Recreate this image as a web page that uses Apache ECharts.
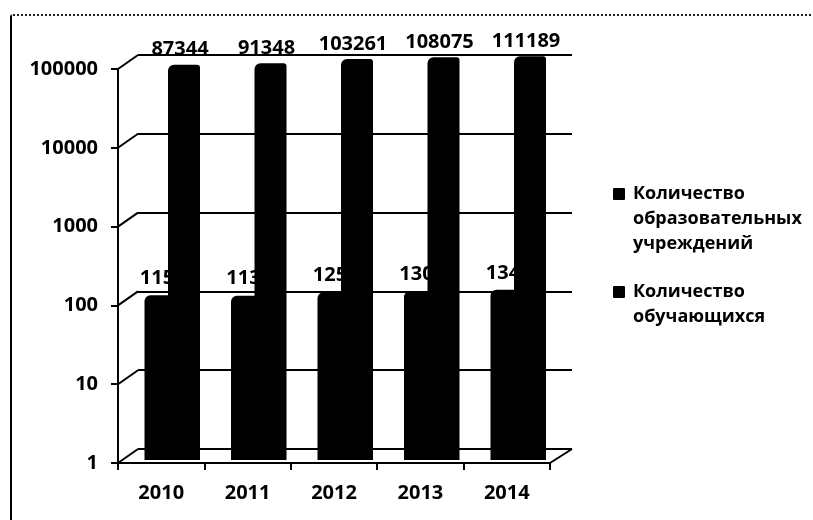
<!DOCTYPE html>
<html>
<head>
<meta charset="utf-8">
<script src="https://cdn.jsdelivr.net/npm/echarts@6/dist/echarts.min.js"></script>
<style>
  html, body { margin: 0; padding: 0; background: #fff; }
  #wrap { position: relative; width: 813px; height: 520px; overflow: hidden; }
  #frame { position: absolute; left: 10px; top: 14px; width: 810px; height: 520px;
           border-left: 2px solid #000; border-top: 2px dotted #222; border-top-left-radius: 3px; }
  #main { position: absolute; left: 0; top: 0; width: 813px; height: 520px; }
</style>
</head>
<body>
<div id="wrap"><div id="frame"></div><div id="main"></div></div>
<script>
// ---- data ----
const years = ['2010', '2011', '2012', '2013', '2014'];
const seriesNames = ['Количество образовательных учреждений', 'Количество обучающихся'];
const institutions = [115, 113, 125, 130, 134];
const students = [87344, 91348, 103261, 108075, 111189];
const yTickLabels = ['1', '10', '100', '1000', '10000', '100000'];

const FONT = 'Open Sans';
const chart = echarts.init(document.getElementById('main'), null, { renderer: 'canvas' });

const front = { left: 118, top: 69, width: 432, height: 394 };
const back = { left: 138, top: 55, width: 434, height: 394 };

function logAxis(gridIndex, extra) {
  return Object.assign({
    type: 'log', logBase: 10, min: 1, max: 100000, interval: 1, gridIndex: gridIndex,
    axisLine: { show: false }, axisTick: { show: false }, axisLabel: { show: false },
    splitLine: { show: false }
  }, extra || {});
}
function catAxis(gridIndex, extra) {
  return Object.assign({
    type: 'category', data: years, gridIndex: gridIndex,
    axisLine: { show: false }, axisTick: { show: false }, axisLabel: { show: false },
    splitLine: { show: false }
  }, extra || {});
}

const option = {
  animation: false,
  backgroundColor: 'transparent',
  grid: [
    front,
    back,
    { left: 128.75, top: 60, width: 432.5, height: 400 },
    { left: 140.75, top: 60, width: 432.5, height: 400 }
  ],
  xAxis: [
    catAxis(0, {
      axisLine: { show: true, lineStyle: { color: '#000', width: 2 } },
      axisTick: { show: true, length: 7, lineStyle: { color: '#000', width: 2 } },
      axisLabel: { show: true, margin: 20, fontFamily: FONT, fontSize: 20, fontWeight: 'bold', color: '#000' }
    }),
    catAxis(1),
    catAxis(2),
    catAxis(3)
  ],
  yAxis: [
    logAxis(0, {
      axisLine: { show: true, lineStyle: { color: '#000', width: 2 } },
      axisTick: { show: true, length: 7, lineStyle: { color: '#000', width: 2 } },
      axisLabel: {
        show: true, margin: 20, fontFamily: FONT, fontSize: 20, fontWeight: 'bold', color: '#000',
        formatter: function (v) { return yTickLabels[Math.round(Math.log10(v))]; }
      }
    }),
    logAxis(1, { splitLine: { show: true, lineStyle: { color: '#000', width: 2 } } }),
    logAxis(2),
    logAxis(3)
  ],
  legend: {
    orient: 'vertical', left: 603, top: 180, itemGap: 30,
    itemWidth: 0, itemHeight: 0, icon: 'rect',
    itemStyle: { opacity: 0 },
    data: seriesNames,
    formatter: function (name) {
      return name.split(' ').map(function (w, i) {
        return (i === 0 ? '{sq| }' : '{ind| }') + '{t|' + w + '}';
      }).join('\n');
    },
    textStyle: {
      rich: {
        sq: { width: 12, height: 12, backgroundColor: '#000', borderRadius: 1, lineHeight: 25 },
        ind: { width: 12, lineHeight: 25 },
        t: { fontFamily: FONT, fontSize: 18, fontWeight: 'bold', color: '#000', lineHeight: 25, padding: [0, 0, 0, 8] }
      }
    }
  },
  series: [
    {
      name: seriesNames[0], type: 'bar', xAxisIndex: 2, yAxisIndex: 2, data: institutions,
      barWidth: 55, z: 2, clip: false,
      itemStyle: { color: '#000', borderRadius: [6, 4, 0, 0] },
      label: { show: true, position: 'top', distance: 7, offset: [-15, 0],
               fontFamily: FONT, fontSize: 20, fontWeight: 'bold', color: '#000' }
    },
    {
      name: seriesNames[1], type: 'bar', xAxisIndex: 3, yAxisIndex: 3, data: students,
      barWidth: 32, z: 3, clip: false,
      itemStyle: { color: '#000', borderRadius: [6, 3, 0, 0] },
      label: { show: true, position: 'top', distance: 5, offset: [-4, 0],
               fontFamily: FONT, fontSize: 20, fontWeight: 'bold', color: '#000' }
    }
  ]
};
chart.setOption(option);

// perspective connectors between the front axes and the back wall, from the library's scales
const lines = [];
yTickLabels.forEach(function (t) {
  const v = Number(t);
  const yf = chart.convertToPixel({ yAxisIndex: 0 }, v);
  const yb = chart.convertToPixel({ yAxisIndex: 1 }, v);
  lines.push({ x1: front.left, y1: yf, x2: back.left, y2: yb });
});
const yf1 = chart.convertToPixel({ yAxisIndex: 0 }, 1);
const yb1 = chart.convertToPixel({ yAxisIndex: 1 }, 1);
lines.push({ x1: front.left + front.width, y1: yf1, x2: back.left + back.width, y2: yb1 });

chart.setOption({
  graphic: lines.map(function (s) {
    return { type: 'line', shape: s, z: 1, style: { stroke: '#000', lineWidth: 2 } };
  })
});
</script>
</body>
</html>
